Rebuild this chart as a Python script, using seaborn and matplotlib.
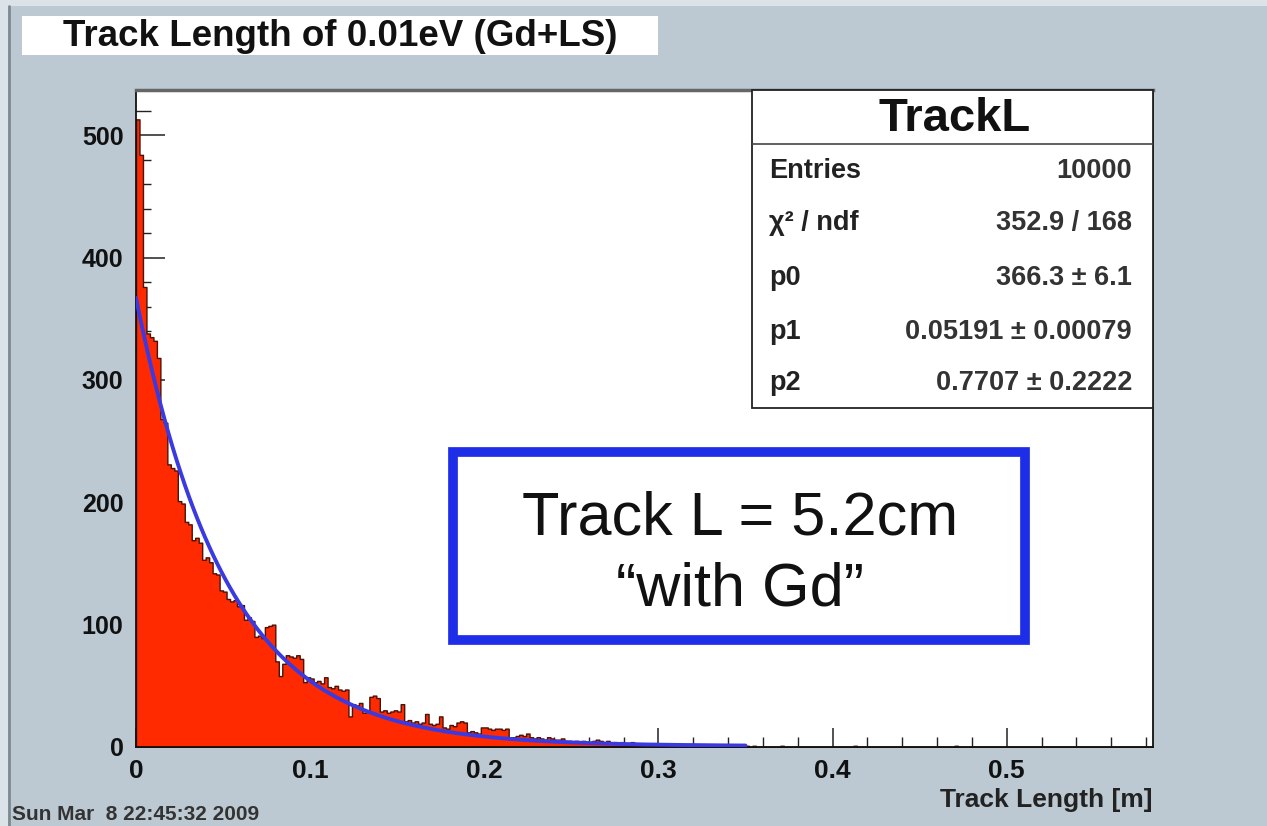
import matplotlib

matplotlib.use("Agg")
import matplotlib.pyplot as plt
import numpy as np
import pandas as pd
import seaborn as sns
from matplotlib.lines import Line2D
from matplotlib.patches import Rectangle
from matplotlib.ticker import MultipleLocator

# ---- data ----------------------------------------------------------------
title = "Track Length of 0.01eV (Gd+LS)"
x_label = "Track Length [m]"
timestamp = "Sun Mar  8 22:45:32 2009"
box_lines = ["Track L = 5.2cm", "\u201cwith Gd\u201d"]

bin_width = 0.002          # m
x_max = 0.584              # histogram upper edge
y_max = 537

# counts per 2 mm bin, starting at 0
counts = [
    513, 484, 376, 338, 335, 332, 318, 268, 265, 231,
    228, 226, 201, 199, 184, 182, 169, 171, 167, 153,
    155, 151, 142, 141, 128, 127, 121, 119, 120, 115,
    116, 104, 106, 103, 90, 91, 89, 98, 99, 100,
    70, 58, 68, 75, 74, 73, 75, 72, 53, 57,
    56, 53, 54, 52, 57, 49, 48, 50, 47, 46,
    47, 25, 35, 34, 36, 28, 29, 41, 42, 40,
    29, 30, 28, 29, 30, 29, 35, 21, 22, 20,
    21, 19, 20, 27, 19, 18, 19, 25, 16, 15,
    18, 17, 20, 21, 20, 12, 13, 12, 11, 16,
    16, 15, 14, 15, 15, 14, 15, 8, 8, 9,
    10, 9, 11, 8, 7, 8, 7, 6, 8, 7,
    6, 6, 7, 5, 5, 4, 5, 4, 5, 4,
    4, 5, 6, 5, 4, 5, 3, 4, 3, 4,
    3, 3, 4, 3, 2, 3, 3, 2, 3, 2,
    3, 2, 2, 3, 2, 1, 2, 2, 1, 2,
    2, 1, 2, 1, 2, 1, 1, 2, 1, 1,
    1, 2, 1, 0, 1, 1, 0, 1, 0, 0,
]
# isolated entries further out (bin index -> count)
tail_hits = {185: 1, 206: 1, 235: 1}

# fit p0*exp(-x/p1) + p2 from the stats box
p0, p1, p2 = 366.3, 0.05191, 0.7707
fit_lo, fit_hi = 0.0, 0.35

stats_title = "TrackL"
stats_labels = ["Entries", "\u03c7\u00b2 / ndf", "p0", "p1", "p2"]
stats_values = ["10000", "352.9 / 168", "366.3 \u00b1 6.1",
                "0.05191 \u00b1 0.00079", "0.7707 \u00b1 0.2222"]

# ---- styling --------------------------------------------------------------
bg = "#BCC9D2"
red = "#FF2A00"
fit_blue = "#3A3AE0"
box_blue = "#1E2EE8"

sns.set_style("ticks")
plt.rcParams["font.family"] = ["Liberation Sans", "DejaVu Sans"]

W, H = 1267, 826
fig = plt.figure(figsize=(W / 100, H / 100), dpi=100, facecolor=bg)


def px_box(x0, y0, x1, y1):
    # pixel box (top-left origin) -> figure fraction rect
    return (x0 / W, 1 - y1 / H), (x1 - x0) / W, (y1 - y0) / H


# canvas bevel on left / top
fig.patches.append(Rectangle((0, 0), 8 / W, 1, transform=fig.transFigure,
                             facecolor="#DCE3E8", edgecolor="none", zorder=0))
fig.patches.append(Rectangle((0, 1 - 6 / H), 1, 6 / H, transform=fig.transFigure,
                             facecolor="#DCE3E8", edgecolor="none", zorder=0))
fig.lines.append(Line2D([9 / W, 9 / W], [0, 1 - 6 / H], transform=fig.transFigure,
                        color="#7D8A92", linewidth=2))

# title box
xy, w, h = px_box(22, 16, 658, 55)
fig.patches.append(Rectangle(xy, w, h, transform=fig.transFigure,
                             facecolor="white", edgecolor="none", zorder=1))
fig.text(340 / W, 1 - 36 / H, title, ha="center", va="center",
         fontsize=26.5, fontweight="bold", color="#111111")

fig.text(12 / W, 1 - 814 / H, timestamp, ha="left", va="center",
         fontsize=15, fontweight="bold", color="#333333")

# plot frame
ax_l, ax_r, ax_t, ax_b = 136, 1153, 90, 747
ax = fig.add_axes([ax_l / W, 1 - ax_b / H, (ax_r - ax_l) / W, (ax_b - ax_t) / H])
ax.set_facecolor("white")

n_bins = int(round(x_max / bin_width))
full_counts = np.zeros(n_bins)
full_counts[:len(counts)] = counts
for idx, c in tail_hits.items():
    full_counts[idx] = c
hist_df = pd.DataFrame({
    "length": (np.arange(n_bins) + 0.5) * bin_width,
    "entries": full_counts,
})

sns.histplot(data=hist_df, x="length", weights="entries", binwidth=bin_width,
             binrange=(0, x_max), element="step", fill=True, color=red,
             alpha=1, edgecolor="#4A1208", linewidth=1.0, ax=ax)

fit_x = np.linspace(fit_lo, fit_hi, 300)
fit_y = p0 * np.exp(-fit_x / p1) + p2
sns.lineplot(x=fit_x, y=fit_y, color=fit_blue, linewidth=2.8, ax=ax, zorder=3)

ax.set_xlim(0, x_max)
ax.set_ylim(0, y_max)
ax.set_ylabel("")
ax.set_xlabel(x_label, loc="right", fontsize=19, fontweight="bold", color="#222222")
ax.xaxis.set_label_coords(1.0, -0.062)

ax.xaxis.set_major_locator(MultipleLocator(0.1))
ax.xaxis.set_minor_locator(MultipleLocator(0.02))
ax.yaxis.set_major_locator(MultipleLocator(100))
ax.yaxis.set_minor_locator(MultipleLocator(20))
ax.xaxis.set_major_formatter(plt.FuncFormatter(lambda v, _: "0" if abs(v) < 1e-9 else f"{v:.1f}"))

ax.tick_params(axis="x", which="major", direction="in", length=14, width=1.1,
               pad=9, labelsize=19, color="#222222")
ax.tick_params(axis="x", which="minor", direction="in", length=7, width=1.0, color="#222222")
ax.tick_params(axis="y", which="major", direction="in", length=21, width=1.1,
               pad=9, labelsize=18, color="#222222")
ax.tick_params(axis="y", which="minor", direction="in", length=11, width=1.0, color="#222222")
for lab in ax.get_xticklabels() + ax.get_yticklabels():
    lab.set_fontweight("bold")
    lab.set_color("#111111")

for side in ["left", "bottom", "right"]:
    ax.spines[side].set_color("#111111")
    ax.spines[side].set_linewidth(1.3)
ax.spines["top"].set_color("#666666")
ax.spines["top"].set_linewidth(2.5)


# stats box (axes fraction coords)
def ax_x(px):
    return (px - ax_l) / (ax_r - ax_l)


def ax_y(py):
    return (ax_b - py) / (ax_b - ax_t)


sx0, sx1, sy_top, sy_bot = 752, 1153, 90, 408
ax.add_patch(Rectangle((ax_x(sx0), ax_y(sy_bot)), ax_x(sx1) - ax_x(sx0),
                       ax_y(sy_top) - ax_y(sy_bot), transform=ax.transAxes,
                       facecolor="white", edgecolor="#222222", linewidth=1.3,
                       zorder=5, clip_on=False))
ax.plot([ax_x(sx0), ax_x(sx1)], [ax_y(144), ax_y(144)], transform=ax.transAxes,
        color="#444444", linewidth=1.2, zorder=6)
ax.text(ax_x(955), ax_y(119), stats_title, transform=ax.transAxes, ha="center",
        va="center", fontsize=34, fontweight="bold", color="#111111", zorder=7)
row_y = [171, 223, 278, 332, 383]
for lab, val, py in zip(stats_labels, stats_values, row_y):
    ax.text(ax_x(769), ax_y(py), lab, transform=ax.transAxes, ha="left",
            va="center", fontsize=19.5, fontweight="bold", color="#222222", zorder=7)
    ax.text(ax_x(1132), ax_y(py), val, transform=ax.transAxes, ha="right",
            va="center", fontsize=19.5, fontweight="bold", color="#333333", zorder=7)

# blue annotation box
bx0, by0, bx1, by1 = 453, 452, 1025, 640
ax.add_patch(Rectangle((ax_x(bx0), ax_y(by1)), ax_x(bx1) - ax_x(bx0),
                       ax_y(by0) - ax_y(by1), transform=ax.transAxes,
                       facecolor="white", edgecolor=box_blue, linewidth=7,
                       zorder=5))
ax.text(ax_x(740), ax_y(519), box_lines[0], transform=ax.transAxes, ha="center",
        va="center", fontsize=44, color="#111111", zorder=7)
ax.text(ax_x(740), ax_y(590), box_lines[1], transform=ax.transAxes, ha="center",
        va="center", fontsize=44, color="#111111", zorder=7)

fig.savefig("out.png", dpi=100, facecolor=bg)
